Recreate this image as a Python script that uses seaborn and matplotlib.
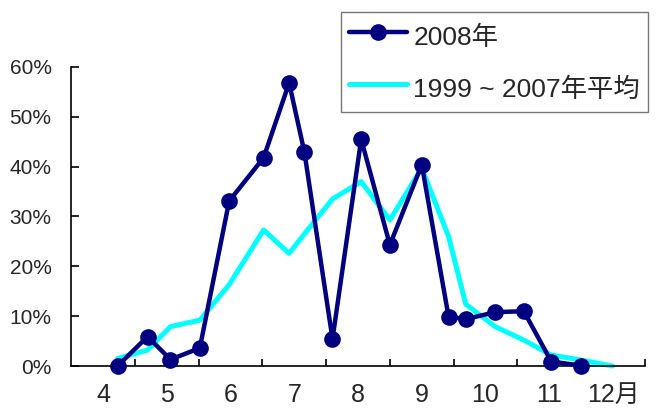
import numpy as np
import pandas as pd
import matplotlib
matplotlib.use("Agg")
import matplotlib.pyplot as plt
from matplotlib.ticker import FixedLocator, PercentFormatter
import seaborn as sns

# x position of each survey point, in months (4 = April, centre of the band)
pos_2008 = [4.23, 4.70, 5.06, 5.52, 5.98, 6.52, 6.92, 7.16, 7.60, 8.05,
            8.50, 9.00, 9.42, 9.69, 10.15, 10.60, 11.03, 11.49]
rate_2008 = [0.0, 5.9, 1.3, 3.6, 33.1, 41.8, 56.8, 42.9, 5.4, 45.5,
             24.3, 40.4, 9.9, 9.4, 10.8, 11.0, 0.9, 0.1]

pos_avg = pos_2008 + [11.99]
rate_avg = [1.5, 3.2, 7.9, 9.2, 16.3, 27.3, 22.6, 26.5, 33.5, 37.0,
            29.3, 39.7, 26.0, 12.4, 7.9, 5.2, 2.2, 1.2, 0.0]

months = [4, 5, 6, 7, 8, 9, 10, 11, 12]
month_labels = ["4", "5", "6", "7", "8", "9", "10", "11", "12月"]
y_ticks = [0, 10, 20, 30, 40, 50, 60]

df_2008 = pd.DataFrame({"pos": pos_2008, "rate": rate_2008})
df_avg = pd.DataFrame({"pos": pos_avg, "rate": rate_avg})

sns.set_style("ticks")
plt.rcParams["font.family"] = ["Liberation Sans", "Noto Sans CJK JP", "DejaVu Sans"]

fig = plt.figure(figsize=(6.64, 4.11), dpi=100)
ax = fig.add_axes([71 / 664, 45 / 411, 574 / 664, 299 / 411])

sns.lineplot(data=df_avg, x="pos", y="rate", sort=False, color="#00FFFF",
             linewidth=3.6, label="1999 ~ 2007年平均", ax=ax, clip_on=False)
sns.lineplot(data=df_2008, x="pos", y="rate", sort=False, color="#000080",
             linewidth=3.2, marker="o", markersize=12, markeredgewidth=0,
             label="2008年", ax=ax, clip_on=False, zorder=3)

ax.set_xlim(3.5, 12.5)
ax.set_ylim(0, 60)
ax.set_xlabel("")
ax.set_ylabel("")

ax.xaxis.set_major_locator(FixedLocator(months))
ax.set_xticklabels(month_labels)
ax.xaxis.set_minor_locator(FixedLocator(np.arange(4.5, 12.6, 1.0)))
ax.tick_params(axis="x", which="major", length=0, pad=12, labelsize=18)
ax.tick_params(axis="x", which="minor", direction="in", length=5, width=1.2, color="black")

ax.yaxis.set_major_locator(FixedLocator(y_ticks))
ax.yaxis.set_major_formatter(PercentFormatter(decimals=0))
ax.tick_params(axis="y", direction="in", length=5.5, width=1.2, pad=14, labelsize=15, color="black")

for s in ["top", "right"]:
    ax.spines[s].set_visible(False)
for s in ["left", "bottom"]:
    ax.spines[s].set_color("black")
    ax.spines[s].set_linewidth(1.2)

handles, labels = ax.get_legend_handles_labels()
leg = ax.legend(handles[::-1], labels[::-1], loc="upper right",
                bbox_to_anchor=(648 / 664, 1 - 12 / 411), bbox_transform=fig.transFigure,
                fontsize=19, frameon=True, fancybox=False, handlelength=2.2,
                handleheight=1.5, handletextpad=0.25, labelspacing=0.75,
                borderpad=0.3, borderaxespad=0)
leg.get_frame().set_edgecolor("#555555")
leg.get_frame().set_linewidth(1.0)

fig.savefig("out.png", dpi=100)
plt.close(fig)
